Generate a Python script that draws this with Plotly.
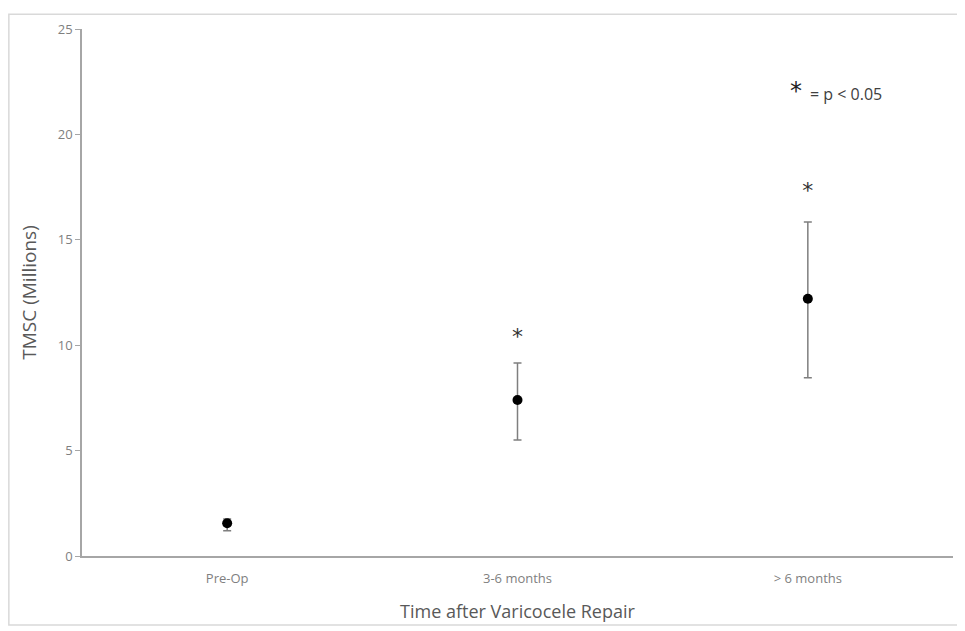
import plotly.graph_objects as go

categories = ["Pre-Op", "3-6 months", "> 6 months"]
means = [1.55, 7.4, 12.2]
err_plus = [0.2, 1.75, 3.65]
err_minus = [0.35, 1.9, 3.75]
sig_labels = ["", "*", "*"]
sig_y = [None, 10.3, 17.25]
y_ticks = [0, 5, 10, 15, 20, 25]

fig = go.Figure()
fig.add_trace(go.Scatter(
    x=categories, y=means, mode="markers",
    marker=dict(color="black", size=10),
    error_y=dict(type="data", symmetric=False, array=err_plus, arrayminus=err_minus,
                 color="#7f7f7f", thickness=1.5, width=4),
    showlegend=False,
))
fig.add_trace(go.Scatter(
    x=[c for c, s in zip(categories, sig_labels) if s],
    y=[v for v, s in zip(sig_y, sig_labels) if s],
    mode="text", text=[s for s in sig_labels if s],
    textfont=dict(size=22, color="#333333", family="DejaVu Sans"),
    showlegend=False,
))

fig.add_annotation(x=0.82, y=22.05, xref="paper", yref="y", text="*", showarrow=False,
                   font=dict(size=24, color="#222222", family="DejaVu Sans"), xanchor="center", yanchor="middle")
fig.add_annotation(x=0.833, y=21.9, xref="paper", yref="y", text="= p &lt; 0.05", showarrow=False,
                   font=dict(size=16, color="#404040", family="Open Sans"), xanchor="left", yanchor="middle")

fig.update_layout(
    width=957, height=623,
    margin=dict(l=74, r=12, t=16, b=74),
    paper_bgcolor="white", plot_bgcolor="white",
    font=dict(family="Open Sans"),
    xaxis=dict(
        type="category", range=[-0.5, 2.5], showline=True, linecolor="#a6a6a6", linewidth=1.5,
        showgrid=False, ticks="", tickfont=dict(size=13, color="#7f7f7f"), ticklabelstandoff=10,
        title=dict(text="Time after Varicocele Repair", font=dict(size=18, color="#595959"), standoff=19),
        zeroline=False,
    ),
    yaxis=dict(
        range=[0, 25], tickvals=y_ticks, showline=True, linecolor="#a6a6a6", linewidth=1.5,
        showgrid=False, ticks="outside", ticklen=5, tickcolor="#a6a6a6",
        tickfont=dict(size=13, color="#7f7f7f"),
        title=dict(text="TMSC (Millions)", font=dict(size=19, color="#595959"), standoff=16),
        zeroline=False,
    ),
    shapes=[dict(type="rect", xref="paper", yref="paper", x0=-0.084, x1=1.0103, y0=-0.131, y1=1.028,
                 line=dict(color="#d9d9d9", width=1.5), fillcolor="rgba(0,0,0,0)")],
)

fig.write_html("out.html")
